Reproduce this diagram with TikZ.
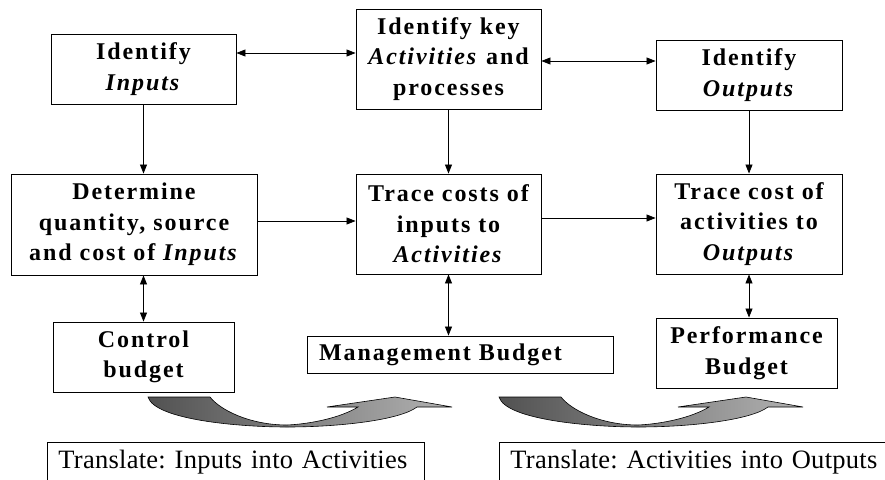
\documentclass[tikz,border=0pt]{standalone}
\usepackage{fontspec}
\setmainfont{Liberation Serif}
\newfontfamily\boxfont[LetterSpace=8]{Liberation Serif}
\newfontfamily\trfont[LetterSpace=1]{Liberation Serif}
\usetikzlibrary{arrows.meta}
\frenchspacing

\begin{document}
\begin{tikzpicture}[x=1pt,y=-1pt,
    box/.style={draw,line width=0.9pt,align=center,inner sep=0pt,
      font=\fontsize{24}{30.5}\selectfont\boxfont\bfseries},
    tbox/.style={draw,line width=0.9pt,anchor=north west,inner xsep=11pt,inner ysep=8pt,
      text height=18pt,text depth=5pt,align=left,font=\fontsize{26.5}{30}\selectfont\trfont},
    to/.style={-{Triangle[length=9pt,width=7pt]},line width=0.8pt},
    both/.style={{Triangle[length=9pt,width=7pt]}-{Triangle[length=9pt,width=7pt]},line width=0.8pt},
    swoosh/.style={left color=black!68,right color=black!30,draw=black,line width=0.6pt}]
  \useasboundingbox[fill=white] (0,0) rectangle (885,479);

  \node[box,minimum width=185pt,minimum height=70pt](inp) at (143.5,69){Identify\\\textit{Inputs}};
  \node[box,minimum width=185pt,minimum height=100pt](act) at (448.5,59){Identify key\\\textit{Activities} and\\processes};
  \node[box,minimum width=186pt,minimum height=70pt](outp) at (749,75){Identify\\\textit{Outputs}};
  \node[box,minimum width=246pt,minimum height=101pt](det) at (134,224.5){Determine\\quantity, source\\and cost of \textit{Inputs}};
  \node[box,minimum width=185pt,minimum height=100pt](trc) at (448.5,224){Trace costs of\\inputs to\\\textit{Activities}};
  \node[box,minimum width=186pt,minimum height=100pt](tro) at (749,224){Trace cost of\\activities to\\\textit{Outputs}};
  \node[box,minimum width=181pt,minimum height=70pt](ctl) at (143.5,357){Control\\budget};
  \node[box,minimum width=306pt,minimum height=37pt,text width=282pt,align=left](mgt) at (460,354.5){Management Budget};
  \node[box,minimum width=181pt,minimum height=70pt](prf) at (746.5,353){Performance\\Budget};
  \node[tbox,text width=355pt](tin) at (47,442){Translate: Inputs into Activities};
  \node[tbox,text width=378pt](tout) at (499,442){Translate: Activities into Outputs};

  \draw[both] (inp.east|-0,53) -- (act.west|-0,53);
  \draw[both] (act.east|-0,61) -- (outp.west|-0,61);
  \draw[to] (inp.south) -- (inp.south|-det.north);
  \draw[to] (act.south) -- (trc.north);
  \draw[to] (outp.south) -- (tro.north);
  \draw[to] (det.east|-0,221) -- (trc.west|-0,221);
  \draw[to] (trc.east|-0,218) -- (tro.west|-0,218);
  \draw[both] (ctl.north|-det.south) -- (ctl.north);
  \draw[both] (trc.south) -- (trc.south|-mgt.north);
  \draw[both] (tro.south) -- (tro.south|-prf.north);

  \foreach \dx in {0,351}
    \shadedraw[swoosh,xshift=\dx pt] (148,397) .. controls (155,420) and (240,427) .. (287,427)
      .. controls (340,427) and (400,420) .. (417,407) -- (452,407) -- (395,397) -- (327,407) -- (358,407)
      .. controls (340,418) and (310,424) .. (287,425) .. controls (250,425) and (220,410) .. (210,397) -- cycle;
\end{tikzpicture}
\end{document}
